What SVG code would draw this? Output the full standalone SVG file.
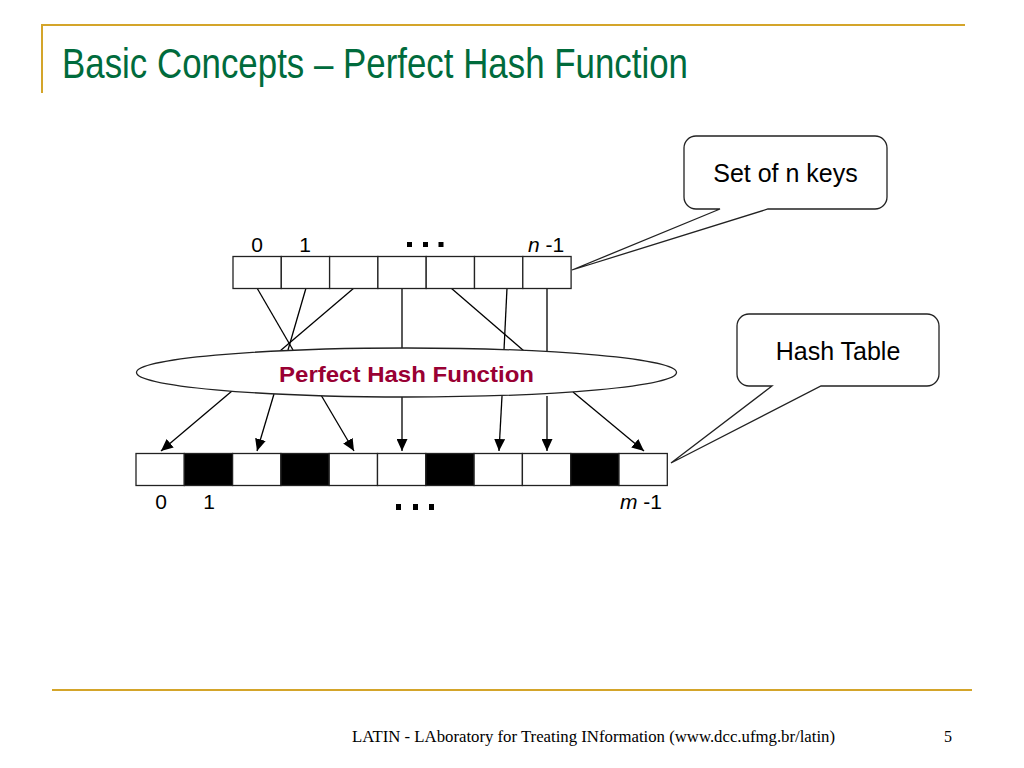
<svg xmlns="http://www.w3.org/2000/svg" width="1024" height="768" viewBox="0 0 1024 768">
<style>
.gold{stroke:#D4A52A;stroke-width:2;fill:none}
.cell{fill:#fff;stroke:#222;stroke-width:1.3}
.blk{fill:#000;stroke:#222;stroke-width:1.3}
.ln{stroke:#000;stroke-width:1.3;fill:none}
.arr{stroke:#000;stroke-width:1.3;fill:none;marker-end:url(#ah)}
.lbl{font-family:"Liberation Sans",Arial,sans-serif;font-size:21px;fill:#000}
.call{fill:#fff;stroke:#222;stroke-width:1.3}
.ctext{font-family:"Liberation Sans",Arial,sans-serif;font-size:25px;fill:#000;text-anchor:middle}
</style>
<defs>
<marker id="ah" markerUnits="userSpaceOnUse" markerWidth="13" markerHeight="11" refX="12" refY="5.5" orient="auto">
<path d="M0,0 L12,5.5 L0,11 Z" fill="#000"/>
</marker>
</defs>
<rect width="1024" height="768" fill="#fff"/>
<g id="frame">
<line class="gold" x1="42" y1="25" x2="965" y2="25"/>
<line class="gold" x1="42" y1="24" x2="42" y2="93"/>
<line class="gold" x1="52" y1="690" x2="972" y2="690"/>
<text x="62" y="78" font-family="'Liberation Sans',Arial,sans-serif" font-size="43" fill="#006B3C" textLength="626" lengthAdjust="spacingAndGlyphs">Basic Concepts – Perfect Hash Function</text>
<text x="352" y="742" font-family="'Liberation Serif','Times New Roman',serif" font-size="16" fill="#000" textLength="483" lengthAdjust="spacingAndGlyphs">LATIN - LAboratory for Treating INformation (www.dcc.ufmg.br/latin)</text>
<text x="944" y="742" font-family="'Liberation Serif','Times New Roman',serif" font-size="16" fill="#000">5</text>
</g>
<g id="connectors">
<line class="ln" x1="257" y1="288" x2="293" y2="350"/>
<line class="ln" x1="306" y1="288" x2="288" y2="350"/>
<line class="ln" x1="354" y1="288" x2="280" y2="351"/>
<line class="ln" x1="402" y1="288" x2="402" y2="349"/>
<line class="ln" x1="451" y1="288" x2="524" y2="351"/>
<line class="ln" x1="507" y1="288" x2="504" y2="350"/>
<line class="ln" x1="547" y1="288" x2="547" y2="351"/>
<line class="arr" x1="232" y1="391" x2="161" y2="451"/>
<line class="arr" x1="274" y1="394" x2="257" y2="451"/>
<line class="arr" x1="321" y1="395" x2="354" y2="451"/>
<line class="arr" x1="402" y1="396" x2="402" y2="451"/>
<line class="arr" x1="502" y1="396" x2="499" y2="451"/>
<line class="arr" x1="547" y1="396" x2="547" y2="451"/>
<line class="arr" x1="573" y1="392" x2="644" y2="451"/>
</g>
<g id="keys">
<rect class="cell" x="233" y="256.5" width="48.3" height="32"/>
<rect class="cell" x="281.3" y="256.5" width="48.3" height="32"/>
<rect class="cell" x="329.6" y="256.5" width="48.3" height="32"/>
<rect class="cell" x="377.9" y="256.5" width="48.3" height="32"/>
<rect class="cell" x="426.2" y="256.5" width="48.3" height="32"/>
<rect class="cell" x="474.5" y="256.5" width="48.3" height="32"/>
<rect class="cell" x="522.8" y="256.5" width="48.3" height="32"/>
<text class="lbl" x="257" y="252" text-anchor="middle">0</text>
<text class="lbl" x="305" y="252" text-anchor="middle">1</text>
<rect x="407" y="242" width="5" height="5" fill="#000"/>
<rect x="423" y="242" width="5" height="5" fill="#000"/>
<rect x="438.5" y="242" width="5" height="5" fill="#000"/>
<text class="lbl" x="528" y="252"><tspan font-style="italic">n</tspan> -1</text>
</g>
<g id="phf">
<ellipse cx="406.5" cy="372.5" rx="270" ry="24.5" fill="#fff" stroke="#222" stroke-width="1.3"/>
<text x="406.5" y="382" text-anchor="middle" font-family="'Liberation Sans',Arial,sans-serif" font-size="22" font-weight="bold" fill="#990033" textLength="255" lengthAdjust="spacingAndGlyphs">Perfect Hash Function</text>
</g>
<g id="table">
<rect class="cell" x="136" y="453.5" width="48.3" height="32"/>
<rect class="blk" x="184.3" y="453.5" width="48.3" height="32"/>
<rect class="cell" x="232.6" y="453.5" width="48.3" height="32"/>
<rect class="blk" x="280.9" y="453.5" width="48.3" height="32"/>
<rect class="cell" x="329.2" y="453.5" width="48.3" height="32"/>
<rect class="cell" x="377.5" y="453.5" width="48.3" height="32"/>
<rect class="blk" x="425.8" y="453.5" width="48.3" height="32"/>
<rect class="cell" x="474.1" y="453.5" width="48.3" height="32"/>
<rect class="cell" x="522.4" y="453.5" width="48.3" height="32"/>
<rect class="blk" x="570.7" y="453.5" width="48.3" height="32"/>
<rect class="cell" x="619" y="453.5" width="48.3" height="32"/>
<text class="lbl" x="161" y="509" text-anchor="middle">0</text>
<text class="lbl" x="209" y="509" text-anchor="middle">1</text>
<rect x="396" y="504" width="5" height="6" fill="#000"/>
<rect x="413" y="504" width="5" height="6" fill="#000"/>
<rect x="429" y="504" width="5" height="6" fill="#000"/>
<text class="lbl" x="620" y="509"><tspan font-style="italic">m</tspan> -1</text>
</g>
<g id="callout-keys">
<path class="call" d="M696,136 H875 A12 12 0 0 1 887,148 V197 A12 12 0 0 1 875,209 H768 L572,270 L720,209 H696 A12 12 0 0 1 684,197 V148 A12 12 0 0 1 696,136 Z"/>
<text class="ctext" x="785.5" y="182">Set of n keys</text>
</g>
<g id="callout-table">
<path class="call" d="M749,314 H927 A12 12 0 0 1 939,326 V374 A12 12 0 0 1 927,386 H821 L671,463 L772,386 H749 A12 12 0 0 1 737,374 V326 A12 12 0 0 1 749,314 Z"/>
<text class="ctext" x="838" y="360">Hash Table</text>
</g>
</svg>
